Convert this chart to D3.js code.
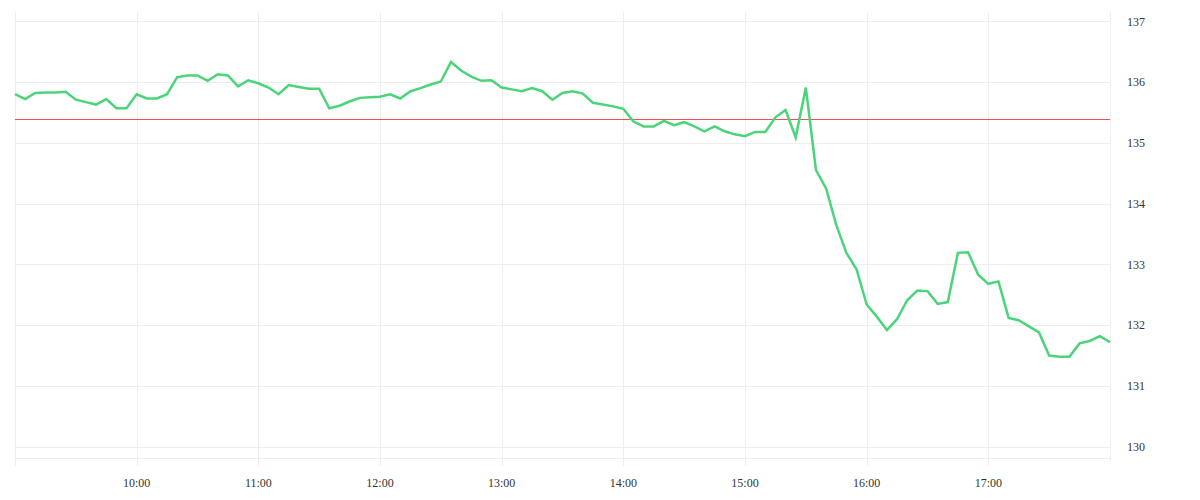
<!DOCTYPE html>
<html>
<head>
<meta charset="utf-8">
<script src="https://cdn.jsdelivr.net/npm/d3@7"></script>
<style>
  html, body { margin: 0; padding: 0; background: #ffffff; }
  svg { display: block; }
</style>
</head>
<body>
<svg id="chart" width="1200" height="500"></svg>
<script>
// ---- data ----
const startTime = "09:00";        // first sample
const stepMinutes = 5;            // sampling interval
const prices = [
  135.80, 135.72, 135.82, 135.83, 135.83, 135.84, 135.71, 135.67, 135.63, 135.72,
  135.57, 135.57, 135.80, 135.73, 135.73, 135.80, 136.08, 136.11, 136.11, 136.02,
  136.13, 136.11, 135.93, 136.03, 135.98, 135.91, 135.80, 135.95, 135.92, 135.89,
  135.89, 135.57, 135.61, 135.68, 135.74, 135.75, 135.76, 135.80, 135.73, 135.85,
  135.90, 135.96, 136.01, 136.33, 136.19, 136.09, 136.02, 136.03, 135.91, 135.88,
  135.85, 135.90, 135.85, 135.71, 135.82, 135.85, 135.81, 135.66, 135.63, 135.60,
  135.56, 135.35, 135.27, 135.27, 135.36, 135.29, 135.34, 135.27, 135.19, 135.27,
  135.19, 135.14, 135.11, 135.18, 135.18, 135.42, 135.54, 135.09, 135.91, 134.55,
  134.25, 133.65, 133.19, 132.92, 132.34, 132.14, 131.92, 132.10, 132.41, 132.57,
  132.56, 132.35, 132.38, 133.19, 133.20, 132.83, 132.68, 132.72, 132.12, 132.08,
  131.98, 131.88, 131.50, 131.48, 131.48, 131.70, 131.74, 131.82, 131.72
];
const referencePrice = 135.39;
const yTickValues = [130, 131, 132, 133, 134, 135, 136, 137];
const xTickLabels = ["10:00", "11:00", "12:00", "13:00", "14:00", "15:00", "16:00", "17:00"];
const domainStart = "09:00";
const domainEnd = "18:00";

// ---- build ----
(function () {
  const parse = d3.timeParse("%H:%M");
  const t0 = parse(startTime);
  const series = prices.map((v, i) => ({ t: d3.timeMinute.offset(t0, i * stepMinutes), v }));

  const svg = d3.select("#chart");
  const padL = 15, padR = 1110, paneTop = 12, paneBottom = 458;

  const x = d3.scaleTime()
    .domain([parse(domainStart), parse(domainEnd)])
    .range([padL, padR]);

  const y = d3.scaleLinear()
    .domain([130, 137])
    .range([446.7, 21.3]);

  const gridColor = "#eeeeee";
  const font = "'Liberation Serif', 'Times New Roman', serif";

  // horizontal grid
  svg.append("g").selectAll("line")
    .data(yTickValues)
    .join("line")
    .attr("x1", padL).attr("x2", padR)
    .attr("y1", d => Math.round(y(d)) + 0.5).attr("y2", d => Math.round(y(d)) + 0.5)
    .attr("stroke", gridColor).attr("stroke-width", 1);

  // bottom border of pane
  svg.append("line")
    .attr("x1", padL).attr("x2", padR)
    .attr("y1", paneBottom + 0.5).attr("y2", paneBottom + 0.5)
    .attr("stroke", gridColor);

  // vertical grid (hour lines incl. 9:00)
  const hourTicks = [parse(domainStart)].concat(xTickLabels.map(s => parse(s)));
  svg.append("g").selectAll("line")
    .data(hourTicks)
    .join("line")
    .attr("x1", d => Math.round(x(d)) + 0.5).attr("x2", d => Math.round(x(d)) + 0.5)
    .attr("y1", paneTop).attr("y2", 466)
    .attr("stroke", gridColor);

  // right axis border
  svg.append("line")
    .attr("x1", padR + 0.5).attr("x2", padR + 0.5)
    .attr("y1", paneTop).attr("y2", 460)
    .attr("stroke", gridColor);

  // y labels (right)
  svg.append("g").selectAll("text")
    .data(yTickValues)
    .join("text")
    .attr("x", 1127)
    .attr("y", d => y(d))
    .attr("dy", "0.35em")
    .attr("font-family", font)
    .attr("font-size", 12)
    .attr("fill", "#333")
    .text(d => d);

  // x labels
  svg.append("g").selectAll("text")
    .data(xTickLabels)
    .join("text")
    .attr("x", d => x(parse(d)))
    .attr("y", 487)
    .attr("text-anchor", "middle")
    .attr("font-family", font)
    .attr("font-size", 12)
    .attr("fill", "#333")
    .text(d => d);

  // reference line
  svg.append("line")
    .attr("x1", padL).attr("x2", padR)
    .attr("y1", Math.round(y(referencePrice)) + 0.5).attr("y2", Math.round(y(referencePrice)) + 0.5)
    .attr("stroke", "#ef5350").attr("stroke-width", 1);

  // price line
  const line = d3.line().x(d => x(d.t)).y(d => y(d.v));
  svg.append("path")
    .datum(series)
    .attr("d", line)
    .attr("fill", "none")
    .attr("stroke", "#4cd47b")
    .attr("stroke-width", 2.5)
    .attr("stroke-linejoin", "miter");
})();
</script>
</body>
</html>
